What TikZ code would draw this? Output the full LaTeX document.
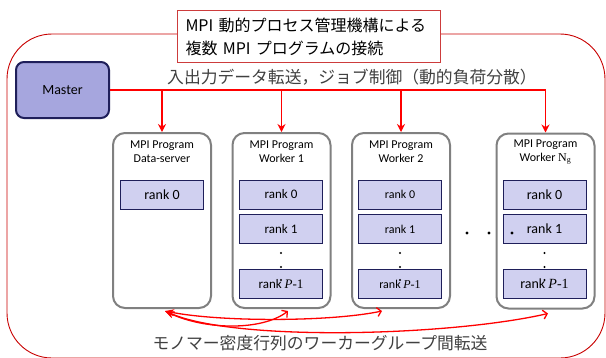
\documentclass[tikz,border=0pt]{standalone}
\usepackage{fontspec}
\setmainfont{Carlito}
\newfontfamily\jp{Noto Sans CJK JP}
\newfontfamily\tms{Liberation Serif}
\usetikzlibrary{arrows.meta}
\definecolor{navy}{RGB}{31,31,90}
\definecolor{masterfill}{RGB}{166,166,222}
\definecolor{lav}{RGB}{208,208,240}
\definecolor{boxgray}{RGB}{128,128,128}
\definecolor{outerred}{RGB}{200,0,0}
\definecolor{titlered}{RGB}{205,60,60}
\definecolor{jpgray}{RGB}{64,64,64}
\begin{document}
\begin{tikzpicture}[x=1pt,y=-1pt,
  outerbox/.style={draw=outerred, line width=0.9pt, rounded corners=45pt},
  titlebox/.style={draw=titlered, line width=1pt, fill=white, anchor=north west,
    minimum height=52pt, text width=247pt, inner xsep=8pt, inner ysep=0pt, align=left,
    font=\jp\fontsize{16}{23}\selectfont},
  master/.style={draw=navy, fill=masterfill, line width=2pt, rounded corners=8pt,
    minimum width=93pt, minimum height=56pt, font=\fontsize{14}{16}\selectfont},
  progbox/.style={draw=boxgray, fill=white, line width=2pt, rounded corners=12pt,
    minimum width=98pt, minimum height=175pt, inner sep=0pt},
  proglabel/.style={align=center, font=\fontsize{12}{14}\selectfont, inner sep=0pt},
  rankbox/.style={draw=navy, fill=lav, line width=0.8pt, minimum width=83pt,
    minimum height=29pt, inner sep=0pt},
  jplabel/.style={text=jpgray, font=\jp\fontsize{16.8}{18}\selectfont, inner sep=0pt},
  feed/.style={draw=red, line width=1.8pt, -{Stealth[length=8pt,width=8pt]}},
  xfer/.style={draw=red, line width=1.3pt,
    {Straight Barb[length=4pt,width=9pt]}-{Stealth[length=9pt,width=7pt]}},
  dotf/.style={fill=black}
]
\useasboundingbox (0,0) rectangle (606,357);
% outer region
\draw[outerbox] (7,34) rectangle (605,358);
% title
\node[titlebox] (title) at (177,10) {MPI 動的プロセス管理機構による\\複数 MPI プログラムの接続};
% master
\node[master] (master) at (62.5,90) {Master};
% top label
\node[jplabel] (toplabel) at (352,77) {入出力データ転送，ジョブ制御（動的負荷分散）};
% program boxes
\node[progbox] (ds) at (162,220.5) {};
\node[progbox] (w1) at (281.5,220.5) {};
\node[progbox] (w2) at (401,220.5) {};
\node[progbox] (ng) at (545.5,221) {};
\node[proglabel] (dsl) at (162,152) {MPI Program\\Data-server};
\node[proglabel] (w1l) at (281.5,152) {MPI Program\\Worker 1};
\node[proglabel] (w2l) at (401,152) {MPI Program\\Worker 2};
\node[proglabel] (ngl) at (545.5,152) {MPI Program\\Worker {\tms N\textsubscript{g}}};
% ranks
\node[rankbox, font=\fontsize{14}{16}\selectfont] (ds0) at (162,194.5) {rank 0};
\node[rankbox, font=\fontsize{13}{15}\selectfont] (w10) at (281,194.5) {rank 0};
\node[rankbox, font=\fontsize{13}{15}\selectfont] (w11) at (281,229) {rank 1};
\node[rankbox, font=\fontsize{13}{15}\selectfont] (w1p) at (281,284) {rank {\tms\itshape P}{\tms -1}};
\node[rankbox, font=\fontsize{12}{14}\selectfont] (w20) at (400,194.5) {rank 0};
\node[rankbox, font=\fontsize{12}{14}\selectfont] (w21) at (400,229) {rank 1};
\node[rankbox, font=\fontsize{12}{14}\selectfont] (w2p) at (400,284) {rank {\tms\itshape P}{\tms -1}};
\node[rankbox, font=\fontsize{14}{16}\selectfont] (ng0) at (544.5,194.5) {rank 0};
\node[rankbox, font=\fontsize{14}{16}\selectfont] (ng1) at (544.5,229) {rank 1};
\node[rankbox, font=\fontsize{14}{16}\selectfont] (ngp) at (544.5,284) {rank {\tms\itshape P}{\tms -1}};
% vertical dots
\foreach \cx in {281,400,544.5} {
  \foreach \cy in {253,267,280} { \fill[dotf] (\cx,\cy) circle (1.1); }
}
% horizontal dots
\foreach \cx in {467,489,512} { \fill[dotf] (\cx,233) circle (1.6); }
% feed arrows
\draw[feed] (master.east) -| (ng.north);
\draw[feed] (ds.north |- master.east) -- (ds.north);
\draw[feed] (w1.north |- master.east) -- (w1.north);
\draw[feed] (w2.north |- master.east) -- (w2.north);
% bottom transfers
\coordinate (dsb) at ([xshift=3pt,yshift=-2pt]ds.south);
\coordinate (w1b) at ([xshift=6.5pt,yshift=-2pt]w1.south);
\coordinate (w2b) at ([xshift=-19pt,yshift=-2pt]w2.south);
\coordinate (ngb) at ([xshift=2.5pt,yshift=-4pt]ng.south);
\draw[xfer] (w1b) .. controls (262,331) and (205,330) .. (dsb);
\draw[xfer] (w2b) .. controls (330,322) and (220,322) .. (dsb);
\draw[xfer] (ngb) .. controls (450,336) and (235,342) .. (dsb);
% bottom label
\node[jplabel] (botlabel) at (320,343) {モノマー密度行列のワーカーグループ間転送};
\end{tikzpicture}
\end{document}
